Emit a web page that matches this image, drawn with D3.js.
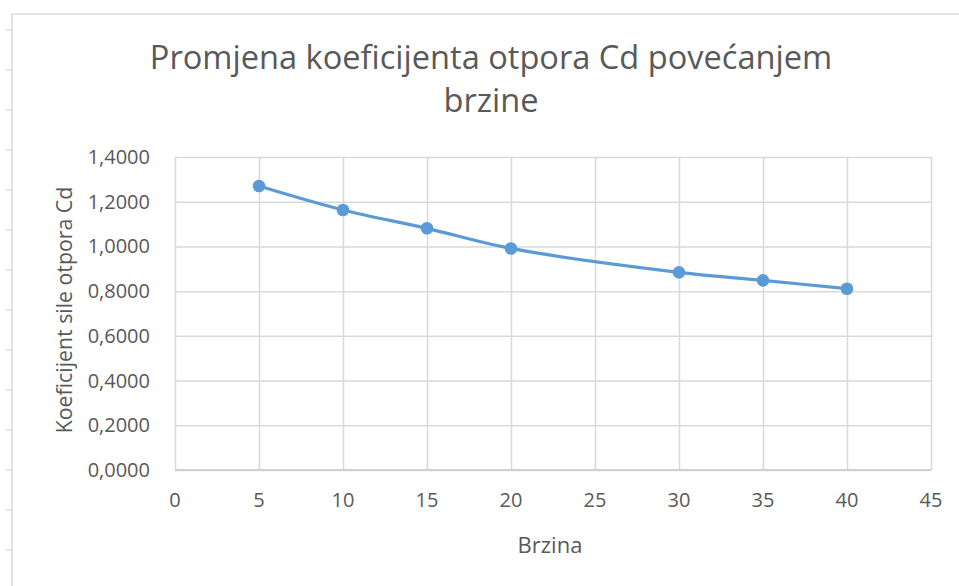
<!DOCTYPE html>
<html>
<head>
<meta charset="utf-8">
<script src="https://cdn.jsdelivr.net/npm/d3@7"></script>
<style>
  html, body { margin: 0; padding: 0; background: #fff; }
  svg { display: block; font-family: "Open Sans", "Noto Sans", sans-serif; }
</style>
</head>
<body>
<svg id="chart" width="959" height="586"></svg>
<script>
// Speed (Brzina) and drag coefficient Cd measured at each speed
const speeds = [5, 10, 15, 20, 30, 35, 40];
const cdValues = [1.270, 1.163, 1.081, 0.991, 0.884, 0.848, 0.811];

const xTicks = [0, 5, 10, 15, 20, 25, 30, 35, 40, 45];
const yTicks = [0, 0.2, 0.4, 0.6, 0.8, 1.0, 1.2, 1.4];

const titleLines = ["Promjena koeficijenta otpora Cd povećanjem", "brzine"];
const xTitle = "Brzina";
const yTitle = "Koeficijent sile otpora Cd";

const W = 959, H = 586;
const textColor = "#595959";
const gridColor = "#d9d9d9";
const lineColor = "#5b9bd5";

const svg = d3.select("#chart");

// sheet frame: top edge and left edge with small ruler ticks
const frame = svg.append("g");
frame.append("line").attr("x1", 12).attr("x2", W).attr("y1", 14).attr("y2", 14)
  .attr("stroke", "#d9d9d9").attr("stroke-width", 1.5);
frame.append("line").attr("x1", 12).attr("x2", 12).attr("y1", 14).attr("y2", H)
  .attr("stroke", "#d9d9d9").attr("stroke-width", 1.5);
frame.selectAll("line.rt").data(d3.range(30, H, 40)).join("line")
  .attr("class", "rt")
  .attr("x1", 6).attr("x2", 12).attr("y1", d => d).attr("y2", d => d)
  .attr("stroke", "#d0d0d0").attr("stroke-width", 1.2);

const plot = { left: 175, right: 931, top: 157, bottom: 470 };

const x = d3.scaleLinear().domain([0, 45]).range([plot.left, plot.right]);
const y = d3.scaleLinear().domain([0, 1.4]).range([plot.bottom, plot.top]);

// gridlines
svg.append("g")
  .attr("transform", `translate(0,${plot.bottom})`)
  .call(d3.axisBottom(x).tickValues(xTicks).tickSize(-(plot.bottom - plot.top)).tickFormat(""))
  .call(g => g.select(".domain").remove())
  .call(g => g.selectAll("line").attr("stroke", gridColor).attr("stroke-width", 1.5));

svg.append("g")
  .attr("transform", `translate(${plot.left},0)`)
  .call(d3.axisLeft(y).tickValues(yTicks).tickSize(-(plot.right - plot.left)).tickFormat(""))
  .call(g => g.select(".domain").remove())
  .call(g => g.selectAll("line").attr("stroke", gridColor).attr("stroke-width", 1.5));

// x axis base line
svg.append("line")
  .attr("x1", plot.left).attr("x2", plot.right)
  .attr("y1", y(0)).attr("y2", y(0))
  .attr("stroke", "#d0d0d0").attr("stroke-width", 1.8);

// tick labels
const fmtY = d => d3.format(".4f")(d).replace(".", ",");
svg.append("g").selectAll("text").data(yTicks).join("text")
  .attr("x", 150).attr("y", d => y(d)).attr("dy", "0.35em")
  .attr("text-anchor", "end").attr("fill", textColor)
  .attr("font-size", 20).text(fmtY);

svg.append("g").selectAll("text").data(xTicks).join("text")
  .attr("x", d => x(d)).attr("y", 507)
  .attr("text-anchor", "middle").attr("fill", textColor)
  .attr("font-size", 20).text(d => d);

// axis titles
svg.append("text")
  .attr("x", 550).attr("y", 553)
  .attr("text-anchor", "middle").attr("fill", textColor)
  .attr("font-size", 22).text(xTitle);

svg.append("text")
  .attr("transform", `translate(72,${(172 + 448) / 2}) rotate(-90)`)
  .attr("text-anchor", "middle").attr("fill", textColor)
  .attr("font-size", 21.3).text(yTitle);

// chart title
svg.append("g").selectAll("text").data(titleLines).join("text")
  .attr("x", 491).attr("y", (d, i) => 69 + i * 43)
  .attr("text-anchor", "middle").attr("fill", textColor)
  .attr("font-size", 32.6).text(d => d);

// smoothed series line
const line = d3.line()
  .x((d, i) => x(speeds[i]))
  .y(d => y(d))
  .curve(d3.curveCatmullRom.alpha(0.5));

svg.append("path")
  .datum(cdValues)
  .attr("d", line)
  .attr("fill", "none")
  .attr("stroke", lineColor)
  .attr("stroke-width", 3.2)
  .attr("stroke-linecap", "round");

svg.append("g").selectAll("circle").data(cdValues).join("circle")
  .attr("cx", (d, i) => x(speeds[i]))
  .attr("cy", d => y(d))
  .attr("r", 6.3)
  .attr("fill", lineColor);
</script>
</body>
</html>
